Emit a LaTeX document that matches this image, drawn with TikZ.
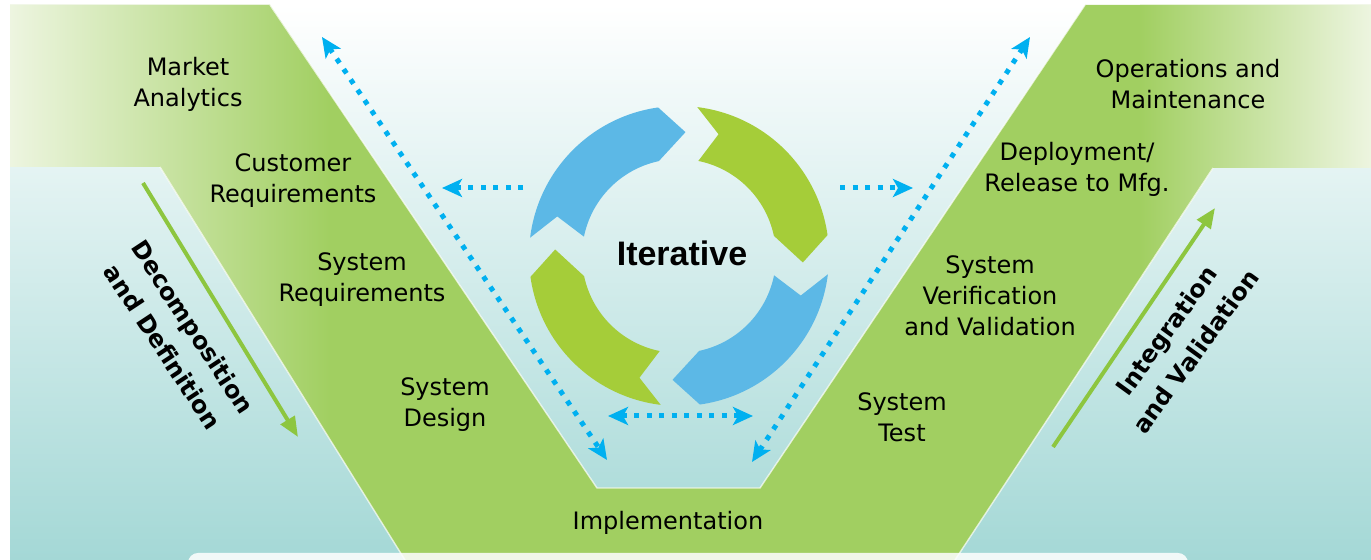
\documentclass[tikz,border=0pt]{standalone}
\usepackage{fontspec}
\setmainfont{DejaVu Sans}
\newfontfamily\iterfont{Liberation Sans}
\usetikzlibrary{arrows.meta}
\definecolor{vgreen}{RGB}{161,207,97}
\definecolor{vgreenlight}{RGB}{237,245,224}
\definecolor{bgteal}{RGB}{164,216,214}
\definecolor{cyclegreen}{RGB}{165,205,57}
\definecolor{cycleblue}{RGB}{92,184,230}
\definecolor{dotblue}{RGB}{0,176,240}
\definecolor{flowgreen}{RGB}{141,198,63}
\newcommand{\cyclearrow}[2]{%
  \fill[#2] (#1:150) arc[start angle=#1, end angle=#1-75, radius=150]
    -- (#1-86:124) -- (#1-71:97)
    arc[start angle=#1-71, end angle=#1-4.5, radius=97]
    -- (#1-11:128) -- cycle;}

\begin{document}
\begin{tikzpicture}[x=0.5pt, y=0.5pt, >={Stealth[length=10pt,width=9pt,inset=2.5pt]},
    stage/.style={align=center, font=\fontsize{12}{15.5}\selectfont},
    phase/.style={align=center, font=\bfseries\fontsize{12}{18}\selectfont},
    dotflow/.style={dotblue, line width=2.5pt, dash pattern=on 2.5pt off 3.75pt},
    greenflow/.style={flowgreen, line width=2pt, -{Triangle[length=10pt,width=8pt]}}]
    \useasboundingbox (0,0) rectangle (1371,560);
    \clip (0,0) rectangle (1371,560);
    \shade[top color=white, bottom color=bgteal] (10,0) rectangle (1371,555);
    \begin{scope}
        \clip (10,555) -- (270,555) -- (597,72) -- (760,72) -- (1085,555) -- (1371,555)
            -- (1371,392) -- (1213,392) -- (955,0) -- (405,0) -- (160,393) -- (10,393) -- cycle;
        \fill[vgreen] (0,0) rectangle (1371,560);
        \shade[left color=vgreenlight, right color=vgreen] (10,0) rectangle (330,560);
        \shade[left color=vgreen, right color=vgreenlight] (1140,0) rectangle (1371,560);
    \end{scope}
    \draw[white, line width=0.7pt, opacity=0.7] (270,555) -- (597,72) -- (760,72) -- (1085,555);
    \draw[white, line width=0.7pt, opacity=0.7] (160,393) -- (405,0);
    \draw[white, line width=0.7pt, opacity=0.7] (1213,392) -- (955,0);
    \fill[white, opacity=0.85, rounded corners=5pt] (188,-40) rectangle (1188,7);

    \begin{scope}[shift={(679,304)}]
        \cyclearrow{173}{cycleblue}
        \cyclearrow{83}{cyclegreen}
        \cyclearrow{-7}{cycleblue}
        \cyclearrow{263}{cyclegreen}
    \end{scope}
    \node[font=\iterfont\bfseries\fontsize{17}{20}\selectfont] (iter) at (682,307) {Iterative};

    \node[stage] (market) at (188,476) {Market\\Analytics};
    \node[stage] (custreq) at (293,379) {Customer\\Requirements};
    \node[stage] (sysreq) at (362,280) {System\\Requirements};
    \node[stage] (sysdesign) at (445,155) {System\\Design};
    \node[stage] (impl) at (668,37) {Implementation};
    \node[stage] (systest) at (902,143) {System\\Test};
    \node[stage] (sysvv) at (990,264) {System\\Verification\\and Validation};
    \node[stage] (deploy) at (1077,391) {Deployment/\\Release to Mfg.};
    \node[stage] (ops) at (1188,476) {Operations and\\Maintenance};

    \node[phase, rotate=-56.6] (decomp) at (178,223) {Decomposition\\and Definition};
    \node[phase, rotate=54] (integ) at (1181,219) {Integration\\and Validation};

    \coordinate (dtop) at (143,377);
    \coordinate (dbot) at (298,123);
    \coordinate (ibot) at (1053,113);
    \coordinate (itop) at (1215,352);
    \draw[greenflow] (dtop) -- (dbot);
    \draw[greenflow] (ibot) -- (itop);

    \coordinate (ltop) at (322,523);
    \coordinate (lbot) at (607,100);
    \coordinate (rtop) at (1030,523);
    \coordinate (rbot) at (752,98);
    \coordinate (hleft) at (523,372);
    \coordinate (hlefttip) at (442,372);
    \coordinate (hright) at (840,372);
    \coordinate (hrighttip) at (913,372);
    \coordinate (bleft) at (608,144);
    \coordinate (bright) at (753,144);
    \draw[dotflow, <->] (ltop) -- (lbot);
    \draw[dotflow, <->] (rtop) -- (rbot);
    \draw[dotflow, ->] (hleft) -- (hlefttip);
    \draw[dotflow, ->] (hright) -- (hrighttip);
    \draw[dotflow, <->] (bleft) -- (bright);
\end{tikzpicture}
\end{document}
